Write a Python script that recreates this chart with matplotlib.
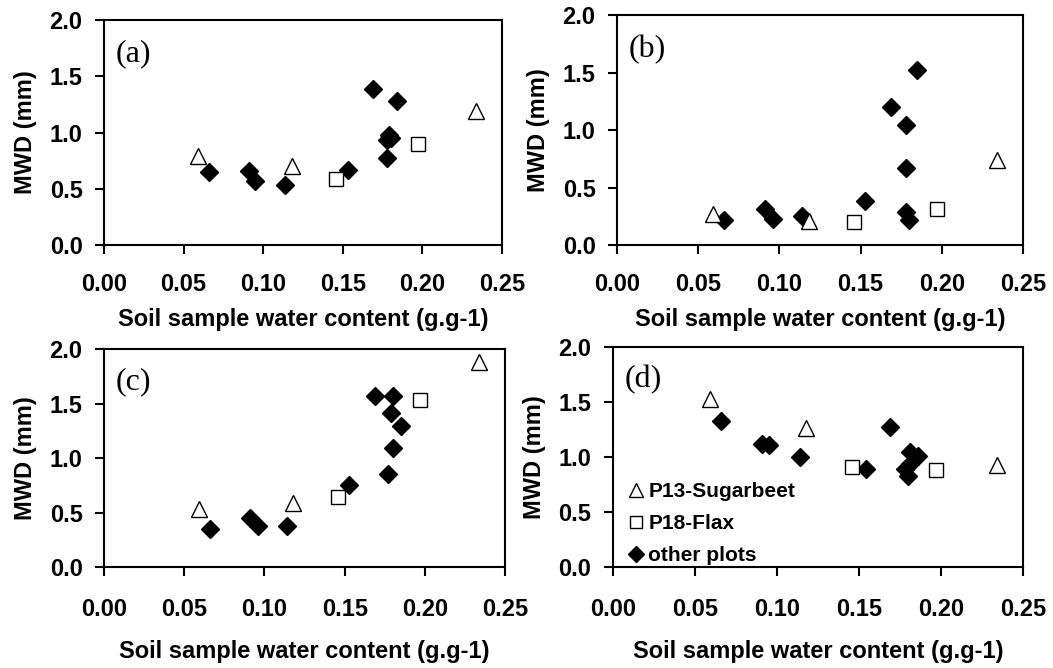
import matplotlib
matplotlib.use("Agg")
import matplotlib.pyplot as plt

plt.rcParams['font.family'] = ['Liberation Sans', 'DejaVu Sans']
plt.rcParams['font.weight'] = 'bold'

# water content of the samples (g.g-1)
sugar_x = [0.059, 0.118, 0.234]
flax_x = [0.146, 0.197]
other_x = {
    'a': [0.066, 0.091, 0.095, 0.114, 0.153, 0.169, 0.184, 0.179, 0.180, 0.178, 0.178],
    'b': [0.066, 0.091, 0.096, 0.114, 0.153, 0.169, 0.185, 0.178, 0.178, 0.178, 0.180],
    'c': [0.066, 0.091, 0.096, 0.114, 0.153, 0.169, 0.185, 0.180, 0.179, 0.180, 0.177],
    'd': [0.066, 0.091, 0.095, 0.114, 0.154, 0.169, 0.186, 0.181, 0.181, 0.178, 0.180],
}

# MWD (mm) per panel
sugar_y = {'a': [0.79, 0.70, 1.19], 'b': [0.27, 0.21, 0.74],
           'c': [0.53, 0.59, 1.88], 'd': [1.53, 1.26, 0.93]}
flax_y = {'a': [0.59, 0.90], 'b': [0.20, 0.31],
          'c': [0.64, 1.53], 'd': [0.91, 0.88]}
other_y = {
    'a': [0.65, 0.66, 0.57, 0.53, 0.67, 1.39, 1.28, 0.98, 0.95, 0.93, 0.77],
    'b': [0.22, 0.31, 0.23, 0.25, 0.38, 1.20, 1.52, 1.04, 0.67, 0.29, 0.22],
    'c': [0.35, 0.45, 0.38, 0.38, 0.75, 1.57, 1.29, 1.57, 1.41, 1.09, 0.85],
    'd': [1.33, 1.12, 1.11, 1.00, 0.89, 1.27, 1.01, 1.05, 0.94, 0.89, 0.83],
}

xticks = [0.0, 0.05, 0.10, 0.15, 0.20, 0.25]
yticks = [0.0, 0.5, 1.0, 1.5, 2.0]

# axes boxes in figure fraction [left, bottom, width, height]
boxes = {
    'a': [0.0988, 0.6332, 0.3779, 0.3368],
    'b': [0.5860, 0.6332, 0.3855, 0.3443],
    'c': [0.0988, 0.1512, 0.3808, 0.3263],
    'd': [0.5821, 0.1512, 0.3894, 0.3293],
}

fig = plt.figure(figsize=(10.53, 6.68), dpi=100)

for p in ['a', 'b', 'c', 'd']:
    ax = fig.add_axes(boxes[p])
    ax.plot(other_x[p], other_y[p], 'D', color='black', markersize=9,
            linestyle='none', label='other plots', zorder=2)
    ax.plot(sugar_x, sugar_y[p], '^', markerfacecolor='white', markeredgecolor='black',
            markeredgewidth=1.0, markersize=12, linestyle='none', label='P13-Sugarbeet', zorder=3)
    ax.plot(flax_x, flax_y[p], 's', markerfacecolor='white', markeredgecolor='black',
            markeredgewidth=1.0, markersize=10, linestyle='none', label='P18-Flax', zorder=3)

    ax.set_xlim(0, 0.25)
    ax.set_ylim(0, 2.0)
    ax.set_xticks(xticks)
    ax.set_xticklabels(['%.2f' % v for v in xticks])
    ax.set_yticks(yticks)
    ax.set_yticklabels(['%.1f' % v for v in yticks])
    for s in ax.spines.values():
        s.set_linewidth(1.5)
    top_row = p in ('a', 'b')
    ax.tick_params(axis='x', direction='out', length=6.5, width=1.5,
                   pad=14 if top_row else 15.5, labelsize=17)
    ax.tick_params(axis='y', direction='out', length=6.5, width=1.5, pad=9, labelsize=17)
    ax.set_xlabel('Soil sample water content (g.g-1)', fontsize=17, fontweight='bold',
                  labelpad=8.5 if top_row else 14)
    ax.set_ylabel('MWD (mm)', fontsize=17, fontweight='bold', labelpad=9)
    ax.text(0.028, 0.85, '(%s)' % p, transform=ax.transAxes, ha='left', va='center',
            fontsize=23, fontweight='normal', family='Liberation Serif')

    if p == 'd':
        h, l = ax.get_legend_handles_labels()
        order = [1, 2, 0]
        ax.legend([h[i] for i in order], [l[i] for i in order], loc='lower left',
                  bbox_to_anchor=(0.005, -0.057), frameon=False, fontsize=15,
                  handlelength=0.6, handletextpad=0.3, labelspacing=0.62,
                  borderaxespad=0.3, markerscale=0.85)

fig.savefig('out.png', dpi=100)
